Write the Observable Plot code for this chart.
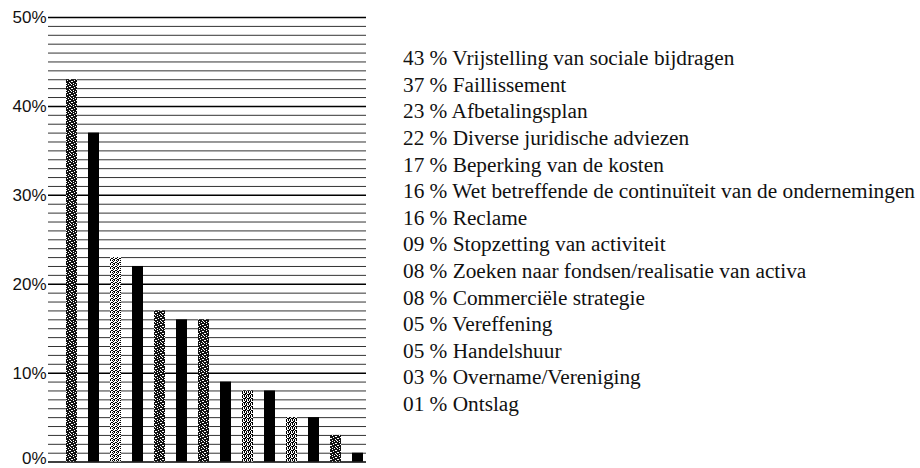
<!DOCTYPE html>
<html>
<head>
<meta charset="utf-8">
<script src="https://cdn.jsdelivr.net/npm/d3@7"></script>
<script src="https://cdn.jsdelivr.net/npm/@observablehq/plot@0.6"></script>
<style>
  html, body { margin: 0; padding: 0; background: #fff; }
  #wrap { position: relative; width: 920px; height: 468px; overflow: hidden; }
  #chart { position: absolute; left: 0; top: 0; }
  #legend { position: absolute; left: 403px; top: 45.2px; font-family: "Liberation Serif", "Times New Roman", serif; font-size: 21.3px; line-height: 26.6px; color: #111; white-space: nowrap; }
</style>
</head>
<body>
<svg width="0" height="0" style="position:absolute">
  <defs>
    <pattern id="dark" width="7" height="7" patternUnits="userSpaceOnUse">
      <rect width="7" height="7" fill="#111"/>
      <rect x="1" y="0" width="1" height="1" fill="#fff"/>
      <rect x="5" y="0" width="1" height="1" fill="#fff"/>
      <rect x="3" y="1" width="1" height="1" fill="#fff"/>
      <rect x="0" y="2" width="1" height="1" fill="#fff"/>
      <rect x="6" y="2" width="1" height="1" fill="#fff"/>
      <rect x="4" y="3" width="1" height="1" fill="#fff"/>
      <rect x="2" y="4" width="1" height="1" fill="#fff"/>
      <rect x="6" y="5" width="1" height="1" fill="#fff"/>
      <rect x="0" y="6" width="1" height="1" fill="#fff"/>
      <rect x="3" y="6" width="1" height="1" fill="#fff"/>
      <rect x="1" y="4" width="1" height="1" fill="#fff"/>
    </pattern>
    <pattern id="light" width="4" height="4" patternUnits="userSpaceOnUse">
      <rect width="4" height="4" fill="#fff"/>
      <rect x="0" y="0" width="1" height="1" fill="#000"/>
      <rect x="2" y="0" width="1" height="1" fill="#000"/>
      <rect x="1" y="1" width="1" height="1" fill="#000"/>
      <rect x="3" y="2" width="1" height="1" fill="#000"/>
      <rect x="0" y="2" width="1" height="1" fill="#000"/>
      <rect x="2" y="3" width="1" height="1" fill="#000"/>
      <rect x="1" y="3" width="1" height="1" fill="#000"/>
    </pattern>
    <pattern id="mid" width="4" height="4" patternUnits="userSpaceOnUse">
      <rect width="4" height="4" fill="#000"/>
      <rect x="1" y="0" width="1" height="1" fill="#fff"/>
      <rect x="3" y="0" width="1" height="1" fill="#fff"/>
      <rect x="0" y="1" width="1" height="1" fill="#fff"/>
      <rect x="2" y="2" width="1" height="1" fill="#fff"/>
      <rect x="1" y="3" width="1" height="1" fill="#fff"/>
      <rect x="3" y="3" width="1" height="1" fill="#fff"/>
      <rect x="3" y="1" width="1" height="1" fill="#fff"/>
    </pattern>
  </defs>
</svg>
<div id="wrap">
  <div id="chart"></div>
  <div id="legend"></div>
</div>
<script>
// Data
const categories = [
  "Vrijstelling van sociale bijdragen",
  "Faillissement",
  "Afbetalingsplan",
  "Diverse juridische adviezen",
  "Beperking van de kosten",
  "Wet betreffende de continuïteit van de ondernemingen",
  "Reclame",
  "Stopzetting van activiteit",
  "Zoeken naar fondsen/realisatie van activa",
  "Commerciële strategie",
  "Vereffening",
  "Handelshuur",
  "Overname/Vereniging",
  "Ontslag"
];
const values = [43, 37, 23, 22, 17, 16, 16, 9, 8, 8, 5, 5, 3, 1];
const yTicks = [0, 10, 20, 30, 40, 50];

// Styles (bar fill patterns by position)
const barFills = ["url(#dark)", "#000", "url(#light)", "#000", "url(#dark)", "#000", "url(#dark)",
                  "#000", "url(#mid)", "#000", "url(#mid)", "#000", "url(#dark)", "#000"];

const rows = categories.map((c, i) => ({category: c, value: values[i], fill: barFills[i]}));
const gridValues = d3.range(0, 51, 1);

const axisOpts = {
  tickSize: 0,
  tickPadding: 2,
  tickFormat: d => d + "%",
  fontSize: 17,
  fill: "#111",
  fontFamily: "Liberation Sans, Arial, sans-serif",
  label: null
};

const chart = Plot.plot({
  width: 380,
  height: 468,
  marginLeft: 48,
  marginRight: 14,
  marginTop: 17,
  marginBottom: 6.4,
  x: {domain: categories, range: [48.9, 379.5], padding: 0.5, axis: null},
  y: {domain: [0, 50], axis: null},
  color: {type: "identity"},
  style: {background: "#fff", overflow: "visible"},
  marks: [
    Plot.ruleY(gridValues.filter(v => v % 10 !== 0), {stroke: "#333", strokeWidth: 1}),
    Plot.ruleY(yTicks, {stroke: "#000", strokeWidth: 1.5}),
    Plot.barY(rows, {x: "category", y: "value", fill: "fill"}),
    Plot.axisY(yTicks.filter(t => t > 0), axisOpts),
    Plot.axisY(yTicks.filter(t => t === 0), {...axisOpts, dy: -4})
  ]
});
document.getElementById("chart").appendChild(chart);

const fmt = d3.format("02d");
const legend = document.getElementById("legend");
rows.forEach(r => {
  const div = document.createElement("div");
  div.textContent = fmt(r.value) + " % " + r.category;
  legend.appendChild(div);
});
</script>
</body>
</html>
